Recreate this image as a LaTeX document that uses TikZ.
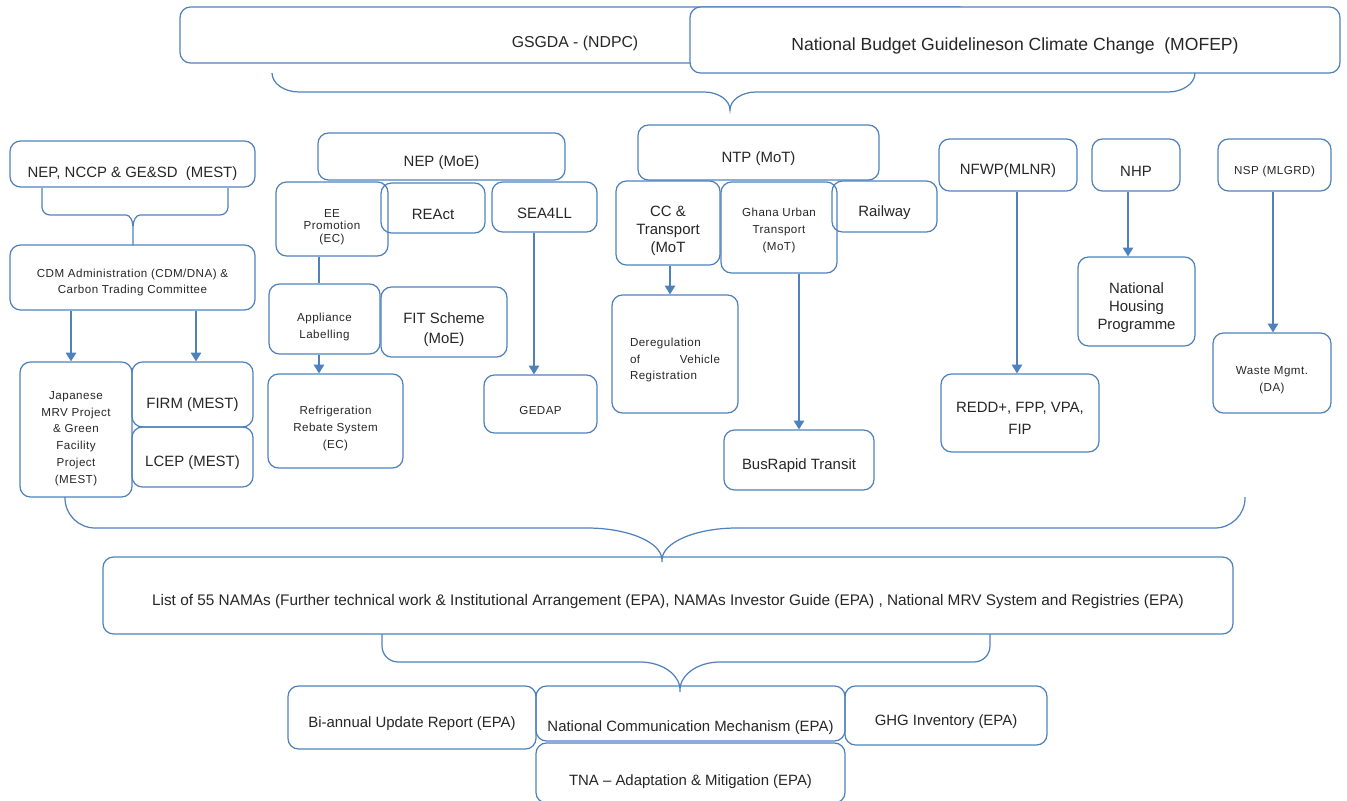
\documentclass[tikz,border=0pt]{standalone}
\usepackage{fontspec}
\setmainfont{Liberation Sans}
\usetikzlibrary{arrows.meta}
\definecolor{ln}{HTML}{4F81BD}
\definecolor{tx}{HTML}{262626}
\newcommand\mainf{\fontsize{8.5}{10.2}\selectfont}
\newcommand\smallf{\fontsize{6.6}{9.5}\selectfont\addfontfeature{LetterSpace=4}}
\newcommand\ts[1]{\rule{0pt}{\dimexpr0.73em+#1*2\relax}}
\tikzset{
 tshift/.style={execute at begin node={\rule{0pt}{\dimexpr0.73em+#1*2\relax}}},
 box/.style={draw=ln, line width=0.7pt, rounded corners=6pt, align=center, inner sep=1pt, text=tx, font=\mainf, tshift=3.4pt},
 sm/.style={font=\smallf},
 line/.style={draw=ln, line width=0.7pt},
 arr/.style={line, -{Triangle[width=6pt,length=5pt]}},
}
\newcommand\rbox[6][]{\node[box,minimum width={(#4-#2)*0.02cm},minimum height={(#5-#3)*0.02cm},#1] (#6) at ({(#2+#4)/2},{(#3+#5)/2})}
% brace: x1 x2 y1 yh tipx tipy r sx tc
\newcommand\brc[9]{\draw[line] (#1,#3) -- (#1,{#4-min(#7,#4-#3)}) .. controls (#1,{#4-0.45*min(#7,#4-#3)}) and ({#1+0.45*#7},#4) .. ({#1+#7},#4) -- ({#5-#8},#4) .. controls ({#5-0.45*#8},#4) and (#5,{#4+0.45*#9}) .. (#5,{#4+#9}) -- (#5,#6) -- (#5,{#4+#9}) .. controls (#5,{#4+0.45*#9}) and ({#5+0.45*#8},#4) .. ({#5+#8},#4) -- ({#2-#7},#4) .. controls ({#2-0.45*#7},#4) and (#2,{#4-0.45*min(#7,#4-#3)}) .. (#2,{#4-min(#7,#4-#3)}) -- (#2,#3);}
\begin{document}
\begin{tikzpicture}[x=0.02cm,y=-0.02cm]
\useasboundingbox (0,0) rectangle (1347,801);
% top
\rbox[font=\fontsize{9}{11}\selectfont,tshift=4.5pt]{180}{7}{970}{63}{gsgda} {GSGDA - (NDPC)};
\rbox[fill=white,font=\fontsize{10}{12}\selectfont]{690}{7}{1340}{73}{nbg} {National Budget Guidelineson Climate Change\ \ (MOFEP)};
\brc{272}{1195}{73}{92}{730}{110}{27}{26}{18}
% left group
\rbox[tshift=5.7pt]{10}{141}{255}{187}{nep1} {NEP, NCCP \& GE\&SD\ \ (MEST)};
\brc{42}{228}{188}{215}{133}{245}{8}{7}{12}
\rbox[sm]{10}{245}{255}{310}{cdm} {\ts{2.8pt}CDM Administration (CDM/DNA) \&\\Carbon Trading Committee};
\rbox[sm]{20}{362}{132}{497}{jap} {\ts{5pt}Japanese\\MRV Project\\\& Green\\Facility\\Project\\(MEST)};
\rbox[tshift=5.7pt]{132}{362}{253}{427}{firm} {FIRM (MEST)};
\rbox[tshift=2.8pt]{132}{427}{253}{487}{lcep} {LCEP (MEST)};
\coordinate (xa) at (71,0);
\coordinate (xb) at (196,0);
\draw[arr] (cdm.south -| xa) -- (jap.north -| xa);
\draw[arr] (cdm.south -| xb) -- (firm.north -| xb);
% NEP MoE group
\rbox{318}{133}{565}{180}{nep2} {NEP (MoE)};
\rbox[sm,font=\fontsize{6.6}{7.2}\selectfont\addfontfeature{LetterSpace=4}]{276}{182}{388}{256}{ee} {\ts{4.5pt}EE\\Promotion\\(EC)};
\rbox[tshift=2.8pt]{381}{183}{485}{233}{react} {REAct};
\rbox[tshift=2.8pt]{492}{182}{597}{232}{sea} {SEA4LL};
\rbox[sm,tshift=1pt]{484}{375}{597}{433}{gedap} {GEDAP};
\rbox[sm]{269}{284}{380}{354}{appl} {\ts{4.5pt}Appliance\\Labelling};
\rbox[font=\fontsize{8.5}{11.5}\selectfont]{381}{287}{507}{357}{fit} {\ts{4.2pt}FIT Scheme\\(MoE)};
\rbox[sm]{268}{374}{403}{468}{refr} {\ts{4.2pt}Refrigeration\\Rebate System\\(EC)};
\coordinate (xc) at (319,0);
\coordinate (xd) at (534,0);
\draw[line] (ee.south -| xc) -- (appl.north -| xc);
\draw[arr] (appl.south -| xc) -- (refr.north -| xc);
\draw[arr] (sea.south -| xd) -- (gedap.north -| xd);
% NTP group
\rbox{638}{125}{879}{180}{ntp} {NTP (MoT)};
\rbox{616}{181}{720}{265}{cc} {\ts{4.5pt}CC \&\\Transport\\(MoT};
\rbox[sm]{721}{182}{837}{273}{gut} {\ts{1.7pt}Ghana Urban\\Transport\\(MoT)};
\rbox[tshift=2.8pt]{832}{181}{937}{232}{rail} {Railway};
\rbox[sm,align=left]{612}{295}{738}{413}{dereg} {\parbox{1.8cm}{\ts{3.4pt}Deregulation\\of\hfill Vehicle\\Registration}};
\rbox[tshift=0pt]{724}{430}{874}{490}{brt} {BusRapid Transit};
\coordinate (xe) at (670,0);
\coordinate (xf) at (799,0);
\draw[arr] (cc.south -| xe) -- (dereg.north -| xe);
\draw[arr] (gut.south -| xf) -- (brt.north -| xf);
% right group
\rbox{939}{139}{1077}{191}{nfwp} {NFWP(MLNR)};
\rbox[tshift=2.3pt]{1092}{139}{1180}{191}{nhp} {NHP};
\rbox[sm]{1218}{139}{1331}{191}{nsp} {NSP (MLGRD)};
\rbox{941}{374}{1099}{452}{redd} {\ts{2.8pt}REDD+, FPP, VPA,\\[2pt]FIP};
\rbox{1078}{257}{1195}{346}{nhs} {\ts{3.4pt}National\\Housing\\Programme};
\rbox[sm]{1213}{333}{1331}{413}{waste} {\ts{4pt}Waste Mgmt.\\(DA)};
\coordinate (xg) at (1017,0);
\coordinate (xh) at (1128,0);
\coordinate (xi) at (1273,0);
\draw[arr] (nfwp.south -| xg) -- (redd.north -| xg);
\draw[arr] (nhp.south -| xh) -- (nhs.north -| xh);
\draw[arr] (nsp.south -| xi) -- (waste.north -| xi);
% big brace and list
\brc{65}{1245}{497}{528}{662}{562}{30}{75}{32}
\rbox[font=\fontsize{8.75}{10.5}\selectfont]{103}{557}{1233}{634}{list} {List of 55 NAMAs (Further technical work \& Institutional Arrangement (EPA), NAMAs Investor Guide (EPA) , National MRV System and Registries (EPA)};
\brc{382}{990}{634}{662}{680}{692}{16}{40}{28}
\rbox[tshift=0.6pt]{288}{686}{536}{749}{bur} {Bi-annual Update Report (EPA)};
\rbox[tshift=8pt]{536}{686}{845}{741}{ncm} {National Communication Mechanism (EPA)};
\rbox[tshift=5pt]{536}{743}{845}{803}{tna} {TNA -- Adaptation \& Mitigation (EPA)};
\rbox[tshift=1pt]{845}{686}{1047}{745}{ghg} {GHG Inventory (EPA)};
\end{tikzpicture}
\end{document}
